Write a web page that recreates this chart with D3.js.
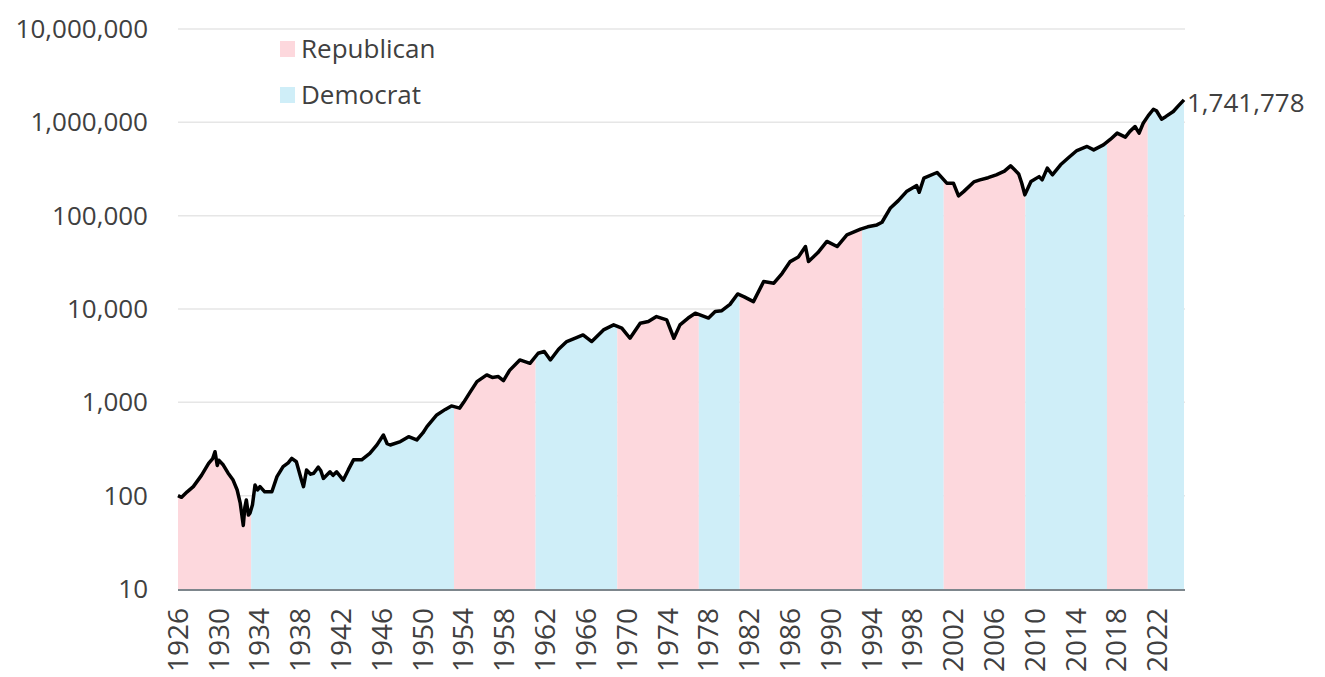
<!DOCTYPE html>
<html>
<head>
<meta charset="utf-8">
<script src="https://cdn.jsdelivr.net/npm/d3@7"></script>
<style>
  body { margin: 0; background: #fff; }
  text { font-family: "Open Sans", "Noto Sans", sans-serif; fill: #404040; }
</style>
</head>
<body>
<div id="my_dataviz"></div>
<script>
// growth of $100 invested in 1926
const dates = [1926.00,1926.35,1926.9,1927.5,1928.3,1929.0,1929.4,1929.63,1929.85,1930.0,1930.44,1930.9,1931.4,1931.8,1932.1,1932.4,1932.55,1932.7,1932.9,1933.06,1933.3,1933.55,1933.8,1934.04,1934.5,1935.2,1935.7,1936.3,1936.8,1937.15,1937.6,1938.1,1938.3,1938.6,1939.0,1939.3,1939.75,1940.0,1940.25,1940.9,1941.2,1941.55,1942.2,1942.7,1943.2,1944.0,1944.8,1945.5,1946.13,1946.5,1946.8,1947.8,1948.6,1949.4,1950.0,1950.4,1951.36,1952.2,1952.8,1953.6,1954.0,1954.6,1955.3,1956.26,1956.8,1957.4,1957.9,1958.5,1959.5,1960.5,1961.3,1961.9,1962.5,1963.3,1964.1,1965.0,1965.7,1966.55,1967.7,1968.7,1969.5,1970.3,1971.3,1972.1,1972.9,1973.9,1974.6,1975.2,1976.0,1976.7,1978.0,1978.65,1979.3,1980.1,1980.85,1981.5,1982.4,1983.4,1984.4,1985.2,1986.0,1986.8,1987.5,1987.8,1988.7,1989.6,1990.6,1991.56,1992.9,1993.6,1994.5,1995.0,1995.8,1996.6,1997.4,1998.4,1998.65,1999.1,2000.4,2000.8,2001.35,2002.0,2002.5,2003.0,2004.0,2004.6,2005.4,2006.2,2007.0,2007.6,2008.0,2008.4,2008.7,2009.0,2009.6,2010.4,2010.7,2011.2,2011.7,2012.5,2013.3,2014.1,2015.1,2015.75,2016.7,2017.4,2018.05,2018.85,2019.3,2019.8,2020.2,2020.6,2021.1,2021.6,2021.9,2022.4,2022.8,2023.55,2024.0,2024.6];
const values = [100,96,110,125,165,222,250,296,210,240,213,175,147,115,83,48,75,90,62,65,80,130,115,125,110,110,160,205,225,251,231,147,125,188,170,174,202,185,153,180,165,180,147,190,242,242,284,350,447,360,349,380,428,395,470,549,733,840,915,867,1000,1270,1667,1967,1850,1890,1710,2200,2845,2620,3357,3500,2845,3700,4480,4900,5275,4480,5970,6760,6240,4860,7050,7330,8300,7640,4860,6760,8000,9020,8000,9380,9600,11200,14500,13500,12000,19680,18900,24000,32200,36000,46700,32200,40000,52950,46700,62200,71600,76000,79600,85000,120000,145000,181000,210000,178000,252000,290000,260000,222800,222800,163000,181000,230000,242000,255000,274000,300000,342000,310000,280000,222800,167000,232000,262000,242000,323000,274000,351000,420000,499000,551000,507000,574000,660000,766000,694000,800000,902000,766000,977000,1180000,1380000,1330000,1080000,1150000,1306000,1480000,1741778];

// presidential terms
const termStarts = [1926, 1933.17, 1953.05, 1961.05, 1969.05, 1977.05, 1981.05, 1993.05, 2001.05, 2009.05, 2017.05, 2021.05];
const termParty = ["Republican","Democrat","Republican","Democrat","Republican","Democrat","Republican","Democrat","Republican","Democrat","Republican","Democrat"];

const yTicks = [10, 100, 1000, 10000, 100000, 1000000, 10000000];
const xTicks = d3.range(1926, 2023, 4);
const endLabel = "1,741,778";

const colors = {"Republican": "#fdd8dd", "Democrat": "#cfeef8"};

var width = 1325, height = 677;
var plotLeft = 178, plotRight = 1184, plotTop = 29, plotBottom = 589;

var svg = d3.select("#my_dataviz")
  .append("svg")
    .attr("width", width)
    .attr("height", height);

var x = d3.scaleLinear().domain([1926, 2024.6]).range([plotLeft, plotRight]);
var y = d3.scaleLog().domain([10, 10000000]).range([plotBottom, plotTop]);

var data = dates.map((d, i) => ({date: d, value: values[i]}));

// grid lines
svg.append("g")
  .selectAll("line")
  .data(yTicks.slice(1))
  .enter()
  .append("line")
    .attr("x1", plotLeft)
    .attr("x2", 1185)
    .attr("y1", d => y(d))
    .attr("y2", d => y(d))
    .style("stroke", "#e6e6e6")
    .style("stroke-width", 1.5);

// shaded area, one clip per term
var area = d3.area()
  .x(d => x(d.date))
  .y0(y(10))
  .y1(d => y(d.value));

var defs = svg.append("defs");
termStarts.forEach(function(s, i) {
  var e = i < termStarts.length - 1 ? termStarts[i + 1] : 2024.6;
  defs.append("clipPath").attr("id", "term" + i)
    .append("rect")
      .attr("x", x(s))
      .attr("y", 0)
      .attr("width", x(e) - x(s))
      .attr("height", height);
  svg.append("path")
    .datum(data)
    .attr("d", area)
    .attr("clip-path", "url(#term" + i + ")")
    .style("fill", colors[termParty[i]]);
});

// x axis line
svg.append("line")
  .attr("x1", plotLeft).attr("x2", 1185)
  .attr("y1", plotBottom + 1).attr("y2", plotBottom + 1)
  .style("stroke", "#7d868c")
  .style("stroke-width", 2);

// the line
svg.append("path")
  .datum(data)
  .attr("d", d3.line().x(d => x(d.date)).y(d => y(d.value)))
  .style("fill", "none")
  .style("stroke", "#000")
  .style("stroke-width", 3.5)
  .style("stroke-linejoin", "round");

// y labels
svg.append("g")
  .selectAll("text")
  .data(yTicks)
  .enter()
  .append("text")
    .attr("x", 148)
    .attr("y", d => y(d))
    .attr("dy", "0.35em")
    .attr("text-anchor", "end")
    .attr("font-size", "26px")
    .text(d3.format(","));

// x labels, rotated
svg.append("g")
  .selectAll("text")
  .data(xTicks)
  .enter()
  .append("text")
    .attr("transform", d => "translate(" + x(d) + ",608) rotate(-90)")
    .attr("dy", "0.35em")
    .attr("text-anchor", "end")
    .attr("font-size", "28px")
    .text(d => d);

// end value
svg.append("text")
  .attr("x", x(dates[dates.length - 1]) + 3)
  .attr("y", y(values[values.length - 1]) + 3)
  .attr("dy", "0.35em")
  .attr("font-size", "26px")
  .text(endLabel);

// legend
var legend = svg.append("g");
["Republican", "Democrat"].forEach(function(p, i) {
  legend.append("rect")
    .attr("x", 280).attr("y", 41 + i * 46)
    .attr("width", 15).attr("height", 16)
    .style("fill", colors[p]);
  legend.append("text")
    .attr("x", 301).attr("y", 49 + i * 46)
    .attr("dy", "0.35em")
    .attr("font-size", "26px")
    .text(p);
});
</script>
</body>
</html>
